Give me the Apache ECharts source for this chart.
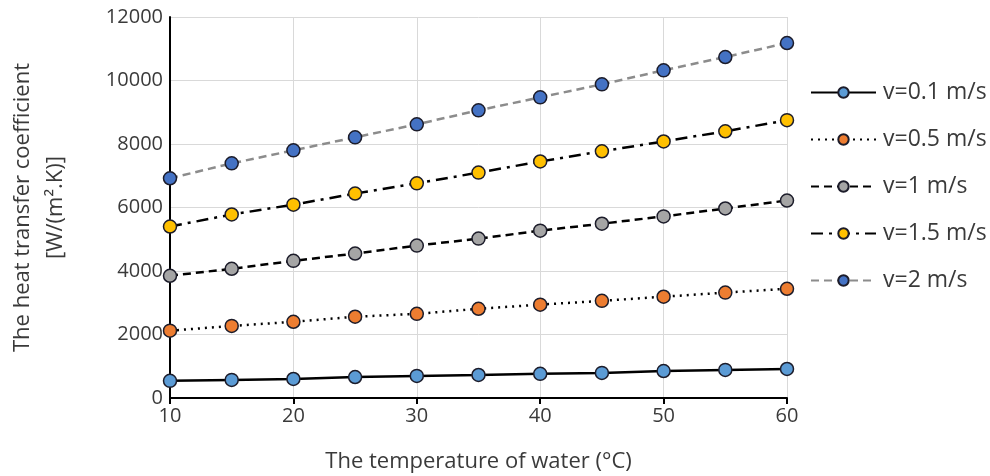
<!DOCTYPE html>
<html>
<head>
<meta charset="utf-8">
<script src="https://cdn.jsdelivr.net/npm/echarts@6/dist/echarts.min.js"></script>
<style>
html, body { margin: 0; padding: 0; background: #fff; }
#chart { width: 990px; height: 476px; }
</style>
</head>
<body>
<div id="chart"></div>
<script>
// temperature of water (°C)
const temps = [10, 15, 20, 25, 30, 35, 40, 45, 50, 55, 60]
const v01 = [540, 570, 600, 660, 695, 725, 760, 790, 850, 885, 915]
const v05 = [2120, 2270, 2400, 2560, 2650, 2810, 2940, 3060, 3190, 3320, 3440]
const v1 = [3850, 4070, 4320, 4550, 4800, 5020, 5270, 5490, 5720, 5970, 6220]
const v15 = [5400, 5780, 6090, 6440, 6760, 7100, 7450, 7770, 8080, 8400, 8750]
const v2 = [6920, 7390, 7800, 8210, 8620, 9060, 9470, 9880, 10320, 10740, 11180]
const names = ['v=0.1 m/s', 'v=0.5 m/s', 'v=1 m/s', 'v=1.5 m/s', 'v=2 m/s']

const font = '"Open Sans", "Liberation Sans", sans-serif'
const textColor = '#3a3a3a'

function mk(name, vals, fill, lineColor, type) {
	return {
		name,
		type: 'line',
		data: temps.map((t, i) => [t, vals[i]]),
		symbol: 'circle',
		symbolSize: 13,
		itemStyle: { color: fill, borderColor: '#1c1c2a', borderWidth: 1.5 },
		lineStyle: { color: lineColor, width: 2.5, type },
		emphasis: { disabled: true },
		animation: false
	}
}

const chart = echarts.init(document.getElementById('chart'))
chart.setOption({
	backgroundColor: '#fff',
	grid: {
		left: 170, right: 203, top: 17, bottom: 78,
		containLabel: false,
		outerBoundsMode: 'none'
	},
	legend: {
		orient: 'vertical',
		left: 805,
		top: 76,
		itemGap: 24,
		itemWidth: 65,
		itemHeight: 13,
		textStyle: { fontFamily: font, fontSize: 23, color: textColor, padding: [0, 0, 0, 2] },
		data: names
	},
	xAxis: {
		type: 'value',
		min: 10,
		max: 60,
		interval: 10,
		name: 'The temperature of water (°C)',
		nameLocation: 'middle',
		nameGap: 53,
		nameTextStyle: { fontFamily: font, fontSize: 22, color: textColor },
		axisLine: { lineStyle: { color: '#000', width: 2 } },
		axisTick: { show: true, length: 6, lineStyle: { color: '#000', width: 2 } },
		axisLabel: { fontFamily: font, fontSize: 20, color: textColor, margin: 8 },
		splitLine: { show: true, lineStyle: { color: '#d9d9d9', width: 1 } }
	},
	yAxis: {
		type: 'value',
		min: 0,
		max: 12000,
		interval: 2000,
		name: 'The heat transfer coefficient\n[W/(m².K)]',
		nameLocation: 'middle',
		nameGap: 98,
		nameTextStyle: { fontFamily: font, fontSize: 22, color: textColor, lineHeight: 33 },
		axisLine: { show: true, lineStyle: { color: '#000', width: 2 } },
		axisTick: { show: false },
		axisLabel: { fontFamily: font, fontSize: 20, color: textColor, margin: 7, formatter: (v) => String(v) },
		splitLine: { show: true, lineStyle: { color: '#d9d9d9', width: 1 } }
	},
	series: [
		mk(names[0], v01, '#5b9bd5', '#000', 'solid'),
		mk(names[1], v05, '#ed7d31', '#000', [2, 5]),
		mk(names[2], v1, '#a5a5a5', '#000', [8, 5]),
		mk(names[3], v15, '#ffc000', '#000', [12, 6, 3, 6]),
		mk(names[4], v2, '#4472c4', '#8c8c8c', [8, 5])
	]
})
</script>
</body>
</html>
